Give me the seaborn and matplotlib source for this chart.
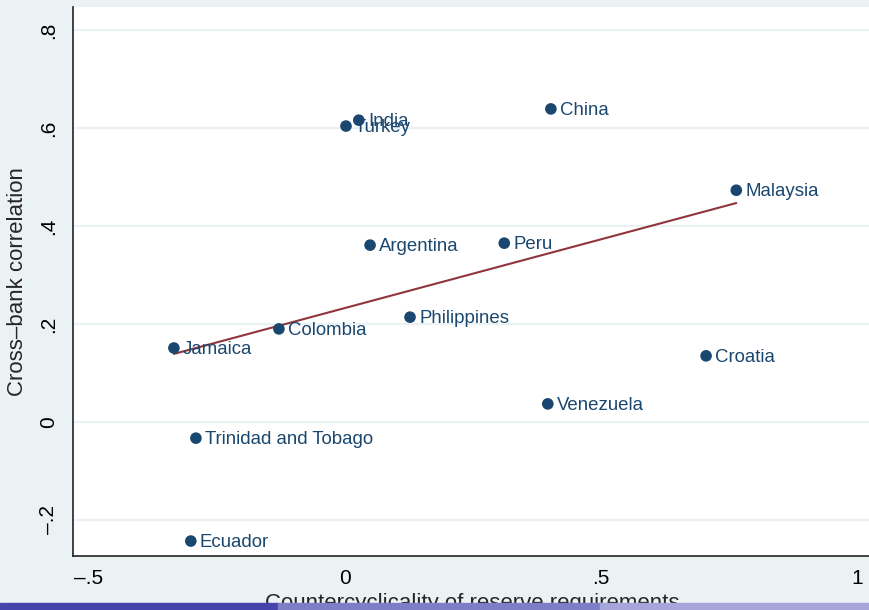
import matplotlib
matplotlib.use("Agg")
import matplotlib.pyplot as plt
import matplotlib.patches as mpatches
import pandas as pd
import seaborn as sns

# data
countries = ["China", "India", "Turkey", "Malaysia", "Argentina", "Peru",
             "Philippines", "Colombia", "Jamaica", "Croatia", "Venezuela",
             "Trinidad and Tobago", "Ecuador"]
rr_cyclicality = [0.402, 0.027, 0.002, 0.764, 0.049, 0.311,
                  0.127, -0.129, -0.334, 0.705, 0.396, -0.291, -0.301]
bank_corr = [0.639, 0.616, 0.604, 0.473, 0.361, 0.365,
             0.214, 0.190, 0.151, 0.135, 0.037, -0.033, -0.243]

x_ticks = [-0.5, 0, 0.5, 1]
x_tick_labels = ["\u2013.5", "0", ".5", "1"]
y_ticks = [-0.2, 0, 0.2, 0.4, 0.6, 0.8]
y_tick_labels = ["\u2013.2", "0", ".2", ".4", ".6", ".8"]

df = pd.DataFrame({"country": countries, "x": rr_cyclicality, "y": bank_corr})

navy = "#1a476f"
maroon = "#90353b"
bg = "#eaf2f3"

sns.set_style("white")
plt.rcParams["font.family"] = ["Liberation Sans", "DejaVu Sans"]

fig = plt.figure(figsize=(8.69, 6.10), dpi=100, facecolor=bg)
ax = fig.add_axes([73 / 869, 54 / 610, 798 / 869, 549 / 610])
ax.set_facecolor("white")

sns.regplot(data=df, x="x", y="y", scatter=False, ci=None, truncate=True,
            color=maroon, line_kws={"linewidth": 1.5, "zorder": 2}, ax=ax)
sns.scatterplot(data=df, x="x", y="y", color=navy, s=70, edgecolor="none",
                zorder=3, ax=ax)

for _, r in df.iterrows():
    ax.annotate(r["country"], (r["x"], r["y"]), xytext=(6.5, -1),
                textcoords="offset points", va="center", ha="left",
                fontsize=13.4, color=navy, zorder=4)

ax.set_xlim(-0.531, 1.027)
ax.set_ylim(-0.2735, 0.847)
ax.set_xticks(x_ticks)
ax.set_xticklabels(x_tick_labels)
ax.set_yticks(y_ticks)
ax.set_yticklabels(y_tick_labels, rotation=90, va="center")
ax.tick_params(axis="both", direction="out", length=5, width=1, color="#333333",
               labelsize=15, labelcolor="black", pad=4)
ax.tick_params(axis="y", pad=6)
ax.yaxis.grid(True, color=bg, linewidth=1.6)
ax.xaxis.grid(False)
ax.set_axisbelow(True)

for side in ["top", "right"]:
    ax.spines[side].set_visible(False)
for side in ["left", "bottom"]:
    ax.spines[side].set_color("#222222")
    ax.spines[side].set_linewidth(1.2)

ax.set_xlabel("Countercyclicality of reserve requirements", fontsize=16, labelpad=4)
ax.set_ylabel("Cross\u2013bank correlation", fontsize=16, labelpad=8)

# beamer navigation bar at the bottom
for x0, w, c in [(0, 278, "#4444ac"), (278, 322, "#7e7ec6"), (600, 269, "#a6a6da")]:
    fig.patches.append(mpatches.Rectangle((x0 / 869, 0), w / 869, 7 / 610,
                                          transform=fig.transFigure,
                                          color=c, zorder=10))

fig.savefig("out.png", dpi=100, facecolor=bg)
